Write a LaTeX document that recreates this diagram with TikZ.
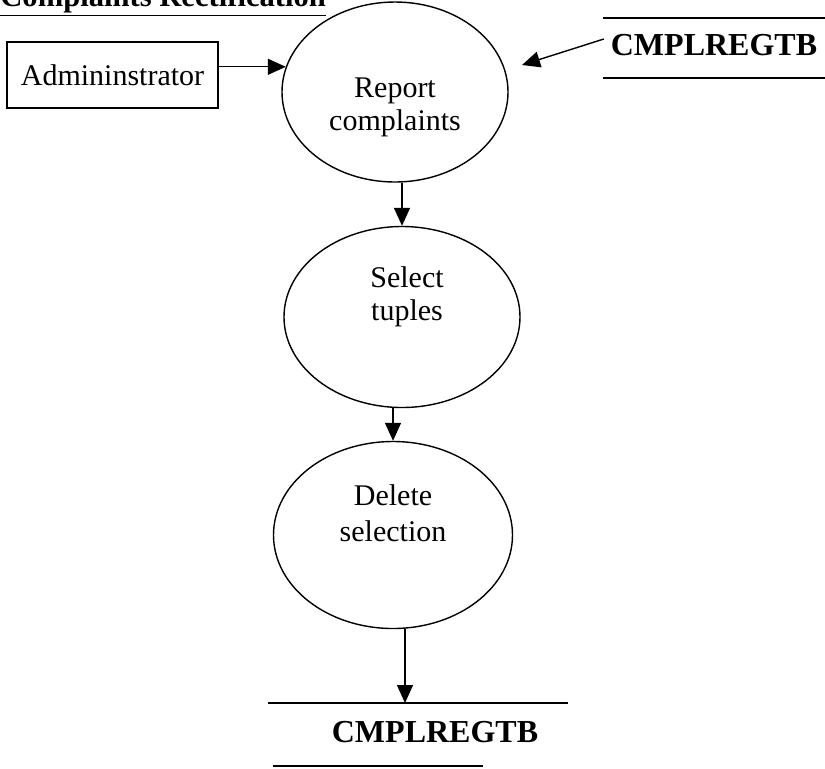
\documentclass[tikz,border=0pt]{standalone}
\usepackage{fontspec}
\setmainfont{Liberation Serif}
\usepackage{tikz}
\usetikzlibrary{arrows.meta}
\usetikzlibrary{positioning}
\usetikzlibrary{shapes}

\tikzset{
  flow/.style={-{Triangle[length=9pt,width=8pt]}, line width=0.7pt},
  proc/.style={draw, ellipse, line width=0.7pt, inner sep=0pt},
  procText/.style={align=center, font=\fontsize{15}{16.5}\selectfont},
  entity/.style={draw, line width=0.7pt, minimum width=105.5pt, minimum height=33pt,
    font=\fontsize{15}{18}\selectfont},
  storeText/.style={font=\fontsize{16}{19}\selectfont\bfseries},
  storeLine/.style={line width=0.7pt},
}

\begin{document}
\begin{tikzpicture}[x=0.5pt,y=-0.5pt]
  \useasboundingbox (0,0) rectangle (825,768);

  %% title
  \node (title) at (0,6) [anchor=base west, inner sep=0pt,
    font=\fontsize{15.3}{18}\selectfont\bfseries] {\underline{Complaints Rectification}};

  %% external entity
  \node (admin) at (112.5,75) [entity] {Admininstrator};

  %% processes
  \node (report) at (395,92) [proc, minimum width=113pt, minimum height=90pt] {};
  \node (reportText) at (395,107) [procText] {Report\\complaints};

  \node (select) at (402,317) [proc, minimum width=118pt, minimum height=90.5pt] {};
  \node (selectText) at (407,297) [procText] {Select\\tuples};

  \node (delete) at (393,535) [proc, minimum width=119.5pt, minimum height=93.5pt] {};
  \node (deleteText) at (393,513) [procText, font=\fontsize{15}{18}\selectfont] {Delete\\selection};

  %% data stores
  % top right
  \node (storeA) at (714,45) [storeText] {CMPLREGTB};
  \draw[storeLine] (603,18) -- (825,18);
  \draw[storeLine] (603,78) -- (825,78);

  % bottom
  \node (storeB) at (435,732) [storeText] {CMPLREGTB};
  \draw[storeLine] (268,703) -- (568,703);
  \draw[storeLine] (273,766) -- (483,766);

  %% flows
  \draw[flow] (admin.east |- report.167) -- (report.167);
  \coordinate (reportIn) at (522,65);
  \draw[flow] ([yshift=3pt]storeA.west) -- (reportIn);
  \draw[flow] (select.north |- report.south) -- (select.north);
  \draw[flow] (delete.north |- select.south) -- (delete.north);
  \coordinate (storeBIn) at (405,703);
  \draw[flow] (delete.south -| storeBIn) -- (storeBIn);
\end{tikzpicture}
\end{document}
